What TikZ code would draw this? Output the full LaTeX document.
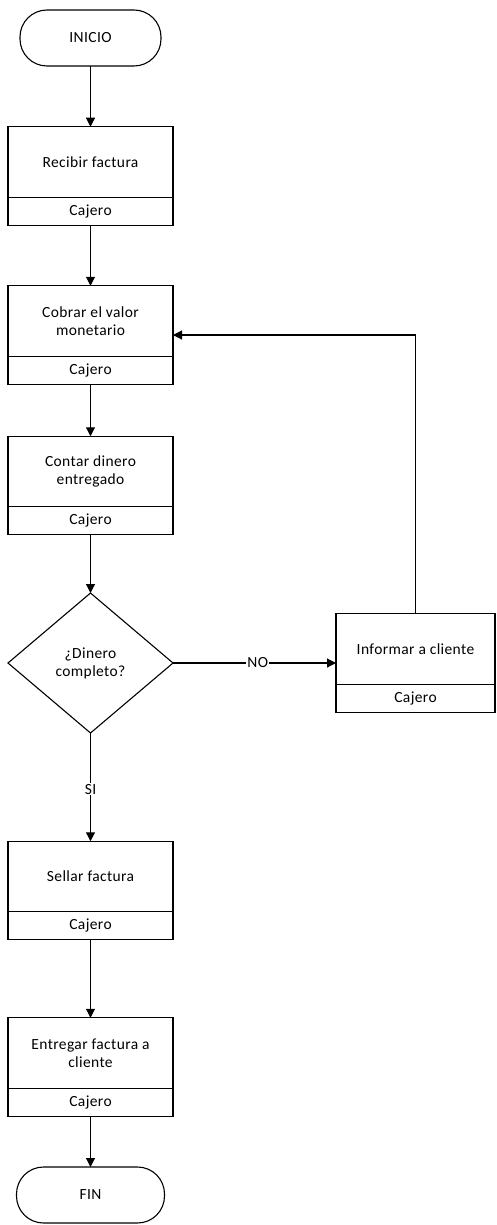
\documentclass[tikz,border=0pt]{standalone}
\usepackage{fontspec}
\setmainfont[LetterSpace=2.5]{Carlito}
\usetikzlibrary{arrows.meta,shapes.geometric,calc}
\begin{document}
\begin{tikzpicture}[x=1pt,y=-1pt,
  font=\fontsize{15.5pt}{18pt}\selectfont,
  line width=1.1pt,
  every node/.style={inner sep=0pt, outer sep=0pt},
  term/.style={draw, rounded corners=27pt, minimum width=141pt, minimum height=56pt},
  task/.style={draw, minimum width=165pt, minimum height=70.5pt, align=center},
  role/.style={draw, minimum width=165pt, minimum height=28pt},
  decision/.style={draw, diamond, aspect=1.18, minimum width=165pt, minimum height=140pt, align=center},
  lbl/.style={fill=white, inner sep=1pt},
  arr/.style={-{Triangle[length=9pt,width=9pt]}}
]
\useasboundingbox (0,0) rectangle (496,1225);

% start
\node[term] (ini) at (90.5,38) {INICIO};

% process boxes: task + responsible
\node[task] (b1) at (90.5,162) {Recibir factura};
\node[role, anchor=north] (b1r) at (b1.south) {Cajero};

\node[task] (b2) at (90.5,321) {Cobrar el valor\\monetario};
\node[role, anchor=north] (b2r) at (b2.south) {Cajero};

\node[task] (b3) at (90.5,471.5) {Contar dinero\\entregado};
\node[role, anchor=north] (b3r) at (b3.south) {Cajero};

\node[decision] (dec) at (90.5,663) {¿Dinero\\completo?};

\node[task, minimum width=159pt] (inf) at (415.5,649) {Informar a cliente};
\node[role, minimum width=159pt, anchor=north] (infr) at (inf.south) {Cajero};

\node[task] (b4) at (90.5,876.5) {Sellar factura};
\node[role, anchor=north] (b4r) at (b4.south) {Cajero};

\node[task] (b5) at (90.5,1053) {Entregar factura a\\cliente};
\node[role, anchor=north] (b5r) at (b5.south) {Cajero};

% end
\node[term, minimum width=148pt] (fin) at (90.5,1195) {FIN};

% connectors
\draw[arr] (ini.south) -- (b1.north);
\draw[arr] (b1r.south) -- (b2.north);
\draw[arr] (b2r.south) -- (b3.north);
\draw[arr] (b3r.south) -- (dec.north);
\draw[arr] (dec.east) -- node[lbl, pos=0.52] (no) {NO} (dec.east -| inf.west);
\coordinate (b2in) at ($(b2.north east)!0.5!(b2r.south east)$);
\draw[arr] (inf.north) |- (b2in);
\draw[arr] (dec.south) -- node[lbl, pos=0.52] (si) {SI} (b4.north);
\draw[arr] (b4r.south) -- (b5.north);
\draw[arr] (b5r.south) -- (fin.north);
\end{tikzpicture}
\end{document}
